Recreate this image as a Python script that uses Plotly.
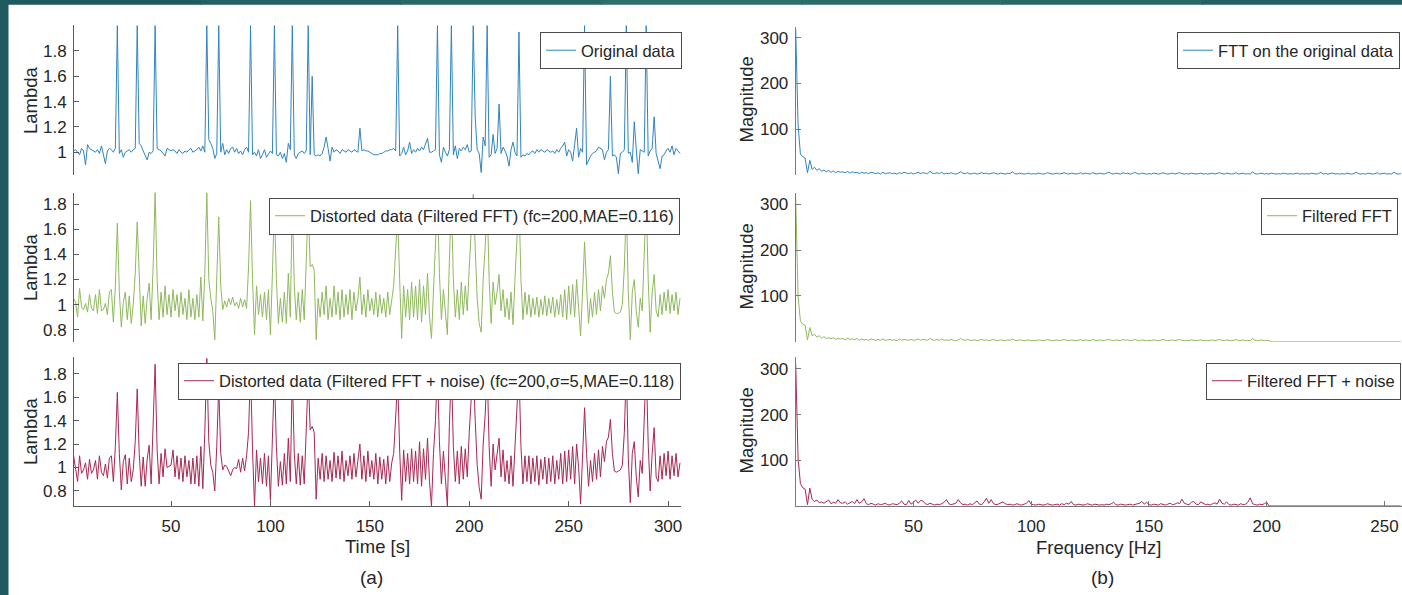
import plotly.graph_objects as go

# ---------------- data ----------------
time_s = list(range(1, 307))
freq_hz = list(range(0, 258))

original = [
    1.01, 1.02, 1.00, 0.98, 1.03, 1.01, 0.90, 1.06, 1.03, 1.02,
    1.01, 1.00, 1.02, 0.99, 1.05, 0.97, 0.91, 1.01, 1.03, 1.02,
    1.00, 1.03, 2.00, 0.99, 1.02, 0.96, 1.00, 1.01, 1.02, 1.00,
    1.02, 1.03, 2.00, 1.07, 1.05, 1.01, 0.97, 0.94, 1.00, 0.99,
    1.01, 2.00, 1.03, 1.02, 1.01, 0.99, 0.97, 1.03, 1.02, 1.01,
    1.02, 1.01, 0.99, 1.02, 1.00, 0.99, 1.01, 1.00, 1.02, 1.03,
    1.00, 1.01, 1.02, 1.04, 1.01, 1.05, 1.00, 2.00, 1.10, 1.07,
    1.03, 0.95, 0.99, 2.00, 1.00, 1.07, 0.98, 1.02, 0.99, 1.03,
    1.04, 1.00, 1.03, 0.99, 1.01, 0.98, 1.02, 1.04, 1.00, 2.00,
    0.98, 1.00, 0.97, 1.02, 0.95, 0.98, 1.02, 0.96, 0.99, 1.01,
    0.99, 2.00, 0.98, 0.97, 1.00, 0.95, 0.99, 0.92, 1.07, 1.02,
    2.00, 0.98, 0.95, 0.99, 1.00, 1.01, 0.99, 1.01, 2.00, 0.98,
    1.60, 0.98, 0.97, 0.98, 0.97, 0.99, 1.04, 1.12, 1.03, 0.93,
    1.04, 1.00, 1.02, 1.01, 0.99, 1.02, 1.01, 1.00, 1.02, 1.01,
    1.00, 1.02, 1.01, 1.00, 1.19, 1.01, 1.02, 1.01, 1.01, 1.00,
    0.99, 0.98, 0.98, 0.98, 0.99, 0.99, 1.00, 1.01, 1.01, 1.02,
    1.02, 1.03, 1.01, 2.00, 0.97, 0.99, 1.04, 0.98, 1.01, 1.08,
    0.99, 1.02, 1.00, 1.03, 1.01, 1.04, 1.02, 1.06, 1.11, 1.00,
    1.00, 1.01, 1.02, 2.00, 0.98, 0.92, 1.04, 1.00, 0.97, 1.02,
    2.00, 0.98, 1.05, 0.95, 1.03, 1.01, 1.04, 1.02, 1.06, 1.00,
    1.01, 2.00, 1.27, 1.02, 0.99, 0.84, 1.12, 1.05, 2.00, 0.96,
    0.98, 1.14, 0.99, 1.03, 1.38, 0.99, 1.04, 1.01, 0.97, 0.89,
    1.02, 1.08, 1.00, 0.97, 1.95, 0.96, 0.98, 0.97, 0.99, 0.98,
    1.00, 1.01, 0.99, 1.02, 1.00, 1.02, 1.01, 1.00, 1.02, 1.01,
    1.00, 1.01, 0.99, 1.02, 1.00, 1.03, 1.05, 1.08, 0.97, 1.02,
    1.00, 0.93, 1.04, 1.19, 0.96, 1.03, 1.00, 2.00, 0.90, 0.94,
    0.97, 0.99, 1.00, 1.01, 1.04, 1.03, 1.02, 0.94, 1.00, 1.02,
    1.60, 0.97, 0.98, 0.96, 0.83, 0.99, 1.00, 1.02, 2.00, 0.99,
    1.00, 0.92, 1.24, 1.02, 0.83, 1.02, 1.01, 1.00, 2.00, 0.97,
    1.01, 1.03, 1.28, 0.99, 0.93, 0.87, 0.97, 0.98, 1.01, 1.03,
    1.00, 1.05, 0.98, 1.03, 1.01, 0.99,
]

filtered = [
    1.05, 1.02, 0.90, 1.13, 0.98, 0.96, 1.01, 0.94, 1.08, 0.97,
    0.95, 1.08, 0.93, 1.12, 0.95, 0.96, 1.01, 0.92, 1.10, 1.12,
    0.86, 1.15, 1.65, 1.10, 0.82, 1.02, 1.10, 0.88, 1.07, 0.85,
    1.00, 1.25, 1.66, 1.15, 0.83, 1.07, 0.85, 1.05, 1.17, 0.88,
    1.30, 1.90, 1.20, 0.88, 1.10, 0.90, 1.15, 0.92, 1.08, 0.90,
    1.12, 0.95, 1.08, 0.90, 1.10, 0.92, 1.05, 0.88, 1.12, 0.90,
    1.05, 0.88, 1.08, 0.90, 1.22, 0.87, 1.25, 1.90, 1.20, 1.05,
    0.95, 0.72, 1.20, 1.70, 1.15, 0.96, 1.03, 0.98, 1.05, 1.00,
    1.06, 0.99, 1.02, 0.97, 1.05, 0.98, 1.04, 0.97, 1.30, 1.83,
    1.20, 0.76, 1.15, 0.92, 1.08, 0.90, 1.10, 0.88, 1.12, 0.76,
    1.25, 1.80, 1.20, 0.85, 1.05, 0.86, 1.10, 0.85, 1.25, 0.90,
    1.84, 1.15, 0.88, 1.10, 0.86, 1.12, 0.88, 1.30, 1.80, 1.30,
    1.32, 1.28, 0.72, 1.05, 0.90, 1.10, 0.92, 1.15, 0.88, 1.05,
    0.90, 1.15, 0.92, 1.10, 0.88, 1.12, 0.90, 1.08, 0.92, 1.12,
    0.88, 1.10, 0.95, 1.05, 1.22, 0.92, 1.08, 0.90, 1.12, 0.95,
    1.05, 0.92, 1.10, 0.90, 1.08, 0.93, 1.05, 0.90, 1.10, 0.92,
    1.05, 1.15, 1.45, 1.70, 1.20, 0.73, 1.15, 0.90, 1.12, 0.88,
    1.18, 0.90, 1.15, 0.88, 1.20, 0.86, 1.15, 0.92, 1.25, 0.90,
    0.73, 1.10, 1.40, 1.85, 1.25, 0.88, 1.12, 0.95, 0.76, 1.35,
    1.85, 1.20, 0.90, 1.12, 0.88, 1.18, 0.92, 1.15, 0.95, 1.30,
    1.60, 1.88, 1.45, 1.05, 0.85, 0.78, 1.20, 1.45, 1.85, 1.20,
    0.85, 1.18, 1.00, 1.10, 1.24, 0.95, 1.12, 0.90, 1.05, 0.88,
    1.10, 0.84, 1.20, 1.50, 1.85, 1.20, 0.88, 1.10, 0.92, 1.08,
    0.90, 1.05, 0.92, 1.06, 0.90, 1.04, 0.92, 1.07, 0.91, 1.05,
    0.93, 1.06, 0.90, 1.04, 0.92, 1.08, 0.90, 1.12, 0.88, 1.15,
    0.92, 1.16, 0.90, 1.20, 1.00, 0.75, 1.10, 1.50, 1.15, 0.85,
    1.05, 0.90, 1.10, 0.92, 1.12, 0.95, 1.15, 1.05, 1.20, 1.25,
    1.39, 1.10, 0.94, 0.93, 0.93, 0.94, 1.00, 1.30, 1.80, 1.10,
    0.72, 1.10, 1.20, 0.95, 0.82, 1.05, 0.95, 1.35, 1.85, 1.20,
    0.78, 1.10, 1.24, 0.95, 0.90, 1.08, 0.92, 1.10, 0.95, 1.12,
    0.93, 1.08, 0.95, 1.10, 0.92, 1.05,
]

filtered_noise = [
    1.10, 1.00, 0.88, 1.10, 0.95, 0.98, 1.04, 0.90, 1.07, 0.95,
    0.98, 1.06, 0.90, 1.10, 0.96, 0.93, 1.03, 0.91, 1.08, 1.10,
    0.88, 1.18, 1.64, 1.12, 0.81, 1.05, 1.11, 0.86, 1.08, 0.88,
    0.98, 1.22, 1.67, 1.12, 0.84, 1.09, 0.84, 1.07, 1.19, 0.86,
    1.35, 1.88, 1.15, 0.86, 1.12, 0.92, 1.16, 1.00, 1.01, 1.02,
    1.15, 0.92, 1.10, 0.90, 1.08, 0.88, 1.10, 0.92, 1.06, 0.86,
    1.08, 0.86, 1.10, 0.84, 1.18, 0.82, 1.30, 1.93, 1.22, 1.02,
    0.96, 0.80, 1.18, 1.70, 1.12, 0.98, 1.02, 1.01, 0.97, 0.93,
    0.98, 1.00, 0.99, 1.07, 0.96, 1.08, 0.97, 1.10, 1.30, 1.85,
    1.15, 0.67, 1.15, 0.88, 1.08, 0.86, 1.12, 0.84, 1.10, 0.72,
    1.25, 1.80, 1.18, 0.84, 1.05, 0.85, 1.12, 0.86, 1.25, 0.88,
    1.80, 1.12, 0.86, 1.12, 0.85, 1.10, 0.86, 1.30, 1.78, 1.32,
    1.35, 1.30, 0.73, 1.08, 0.90, 1.12, 0.88, 1.10, 0.90, 1.06,
    0.88, 1.13, 0.91, 1.10, 0.90, 1.14, 0.88, 1.06, 0.93, 1.10,
    0.90, 1.12, 0.92, 1.06, 1.20, 0.90, 1.10, 0.88, 1.14, 0.92,
    1.06, 0.90, 1.12, 0.86, 1.09, 0.90, 1.07, 0.86, 1.10, 0.88,
    1.04, 1.12, 1.45, 1.75, 1.15, 0.72, 1.15, 0.88, 1.12, 0.86,
    1.16, 0.88, 1.14, 0.86, 1.22, 0.84, 1.16, 0.90, 1.25, 0.88,
    0.67, 1.12, 1.40, 1.85, 1.22, 0.86, 1.14, 0.92, 0.67, 1.35,
    1.85, 1.18, 0.88, 1.14, 0.86, 1.18, 0.90, 1.16, 0.92, 1.30,
    1.60, 1.88, 1.40, 1.02, 0.83, 0.73, 1.20, 1.45, 1.85, 1.18,
    0.84, 1.20, 0.98, 1.12, 1.25, 0.92, 1.15, 0.88, 1.06, 0.86,
    1.10, 0.84, 1.20, 1.50, 1.85, 1.18, 0.86, 1.10, 0.88, 1.10,
    0.86, 1.08, 0.88, 1.10, 0.85, 1.07, 0.90, 1.09, 0.86, 1.08,
    0.88, 1.10, 0.86, 1.06, 0.90, 1.12, 0.86, 1.14, 0.88, 1.15,
    0.90, 1.18, 0.86, 1.20, 1.00, 0.69, 1.10, 1.51, 1.12, 0.84,
    1.06, 0.88, 1.12, 0.90, 1.15, 0.92, 1.18, 1.05, 1.22, 1.26,
    1.41, 1.12, 0.97, 0.96, 0.97, 0.98, 1.02, 1.30, 1.85, 1.08,
    0.70, 1.12, 1.22, 0.92, 0.75, 1.06, 0.95, 1.35, 1.88, 1.20,
    0.80, 1.12, 1.34, 0.92, 0.88, 1.10, 0.90, 1.12, 0.93, 1.14,
    0.90, 1.10, 0.93, 1.12, 0.92, 1.04,
]

fft_original = [
    318, 110, 46, 40, 37, 5, 32, 12, 17, 10,
    14, 8, 11, 7, 10, 6, 9, 5, 8, 6,
    7, 5, 8, 4, 7, 5, 6, 3, 6, 4,
    5, 3, 6, 4, 3, 5, 2, 6, 3, 4,
    5, 3, 4, 2, 5, 3, 6, 4, 3, 5,
    2, 4, 6, 3, 5, 4, 3, 8, 4, 3,
    5, 3, 6, 2, 4, 3, 5, 3, 2, 4,
    7, 4, 3, 5, 2, 3, 4, 2, 3, 5,
    3, 4, 2, 3, 5, 3, 2, 4, 3, 2,
    4, 3, 7, 3, 2, 4, 3, 2, 3, 4,
    2, 3, 2, 4, 3, 2, 3, 5, 3, 2,
    3, 4, 2, 3, 5, 3, 2, 4, 3, 2,
    3, 5, 2, 4, 3, 2, 5, 3, 2, 4,
    3, 2, 4, 6, 3, 2, 4, 3, 2, 5,
    3, 4, 2, 3, 6, 3, 2, 4, 3, 2,
    3, 2, 4, 3, 2, 3, 5, 3, 2, 3,
    4, 2, 3, 5, 3, 2, 3, 2, 4, 3,
    2, 3, 4, 2, 3, 2, 3, 4, 2, 3,
    5, 3, 2, 4, 3, 2, 3, 5, 2, 3,
    4, 2, 3, 2, 7, 3, 2, 3, 4, 2,
    3, 2, 4, 3, 2, 3, 2, 4, 3, 2,
    3, 2, 3, 4, 2, 3, 2, 3, 2, 4,
    3, 2, 3, 6, 2, 3, 2, 3, 4, 2,
    3, 2, 3, 2, 4, 3, 2, 3, 6, 3,
    2, 3, 2, 4, 3, 2, 3, 5, 2, 3,
    4, 2, 3, 2, 6, 3, 2, 3,
]

fft_filtered = [
    315, 100, 45, 38, 36, 4, 31, 13, 16, 10,
    13, 8, 11, 7, 9, 6, 9, 5, 7, 6,
    7, 4, 8, 5, 6, 4, 7, 3, 6, 4,
    5, 3, 6, 4, 3, 5, 3, 6, 3, 4,
    5, 3, 4, 2, 6, 3, 5, 4, 3, 5,
    3, 4, 6, 3, 5, 4, 3, 7, 4, 3,
    5, 3, 6, 3, 4, 3, 5, 3, 2, 4,
    7, 4, 3, 5, 3, 3, 4, 2, 3, 5,
    3, 4, 2, 3, 5, 3, 2, 4, 3, 2,
    4, 3, 6, 3, 2, 4, 3, 2, 3, 4,
    2, 3, 2, 4, 3, 2, 3, 5, 3, 2,
    3, 4, 2, 3, 5, 3, 2, 4, 3, 2,
    3, 5, 2, 4, 3, 2, 5, 3, 2, 4,
    3, 2, 4, 5, 3, 2, 4, 3, 2, 5,
    3, 4, 2, 3, 5, 3, 2, 4, 3, 2,
    3, 2, 4, 3, 2, 3, 5, 3, 2, 3,
    4, 2, 3, 5, 3, 2, 3, 2, 4, 3,
    2, 3, 4, 2, 3, 2, 3, 4, 2, 3,
    5, 3, 2, 4, 3, 2, 3, 5, 2, 3,
    4, 2, 3, 2, 7, 3, 2, 3, 4, 2,
    3, 2, 0, 0, 0, 0, 0, 0, 0, 0,
    0, 0, 0, 0, 0, 0, 0, 0, 0, 0,
    0, 0, 0, 0, 0, 0, 0, 0, 0, 0,
    0, 0, 0, 0, 0, 0, 0, 0, 0, 0,
    0, 0, 0, 0, 0, 0, 0, 0, 0, 0,
    0, 0, 0, 0, 0, 0, 0, 0,
]

fft_filtered_noise = [
    312, 105, 49, 40, 37, 3, 39, 14, 10, 13,
    7, 9, 6, 10, 13, 5, 8, 6, 14, 7,
    6, 9, 4, 7, 10, 5, 14, 6, 9, 16,
    5, 3, 6, 4, 2, 5, 3, 4, 6, 3,
    2, 5, 4, 3, 6, 11, 4, 3, 12, 4,
    8, 13, 6, 12, 11, 5, 3, 6, 4, 2,
    4, 3, 5, 8, 14, 5, 3, 4, 6, 14,
    7, 3, 4, 2, 5, 3, 8, 11, 4, 3,
    9, 17, 6, 14, 5, 3, 4, 6, 9, 5,
    3, 4, 2, 3, 5, 3, 2, 4, 6, 12,
    4, 3, 2, 4, 3, 2, 3, 5, 3, 2,
    3, 4, 2, 5, 3, 6, 4, 10, 3, 2,
    4, 3, 2, 3, 5, 3, 2, 4, 3, 2,
    3, 2, 4, 3, 5, 8, 3, 2, 4, 3,
    2, 3, 4, 2, 3, 4, 6, 10, 4, 8,
    3, 2, 4, 3, 2, 5, 3, 2, 4, 6,
    3, 4, 7, 5, 15, 6, 4, 3, 8, 10,
    4, 3, 9, 5, 3, 4, 2, 5, 7, 4,
    15, 6, 4, 9, 3, 2, 4, 3, 2, 5,
    3, 4, 8, 18, 5, 3, 2, 4, 3, 5,
    8, 0, 0, 0, 0, 0, 0, 0, 0, 0,
    0, 0, 0, 0, 0, 0, 0, 0, 0, 0,
    0, 0, 0, 0, 0, 0, 0, 0, 0, 0,
    0, 0, 0, 0, 0, 0, 0, 0, 0, 0,
    0, 0, 0, 0, 0, 0, 0, 0, 0, 0,
    0, 0, 0, 0, 0, 0, 0, 0,
]

lambda_ticks_top = [1, 1.2, 1.4, 1.6, 1.8]
lambda_ticks = [0.8, 1, 1.2, 1.4, 1.6, 1.8]
mag_ticks = [100, 200, 300]
time_ticks = [50, 100, 150, 200, 250, 300]
freq_ticks = [50, 100, 150, 200, 250]

names = [
    "Original data",
    "Distorted data (Filtered FFT) (fc=200,MAE=0.116)",
    "Distorted data (Filtered FFT + noise) (fc=200,\u03c3=5,MAE=0.118)",
    "FTT on the original data",
    "Filtered FFT",
    "Filtered FFT + noise",
]

# ---------------- style ----------------
W, H = 1402, 595
FONT = "Liberation Sans, Arial, Helvetica, sans-serif"
TXT = "#262626"
AX = "#5a5a5a"
BLUE = "#3084c0"
GREEN = "#90b85e"
RED = "#a82850"


def px_x(p):
    return p / W


def px_y(p):
    return 1 - p / H


fig = go.Figure()

series = [
    (time_s, original, BLUE, "x", "y", "legend"),
    (time_s, filtered, GREEN, "x2", "y2", "legend2"),
    (time_s, filtered_noise, RED, "x3", "y3", "legend3"),
    (freq_hz, fft_original, BLUE, "x4", "y4", "legend4"),
    (freq_hz, fft_filtered, GREEN, "x5", "y5", "legend5"),
    (freq_hz, fft_filtered_noise, RED, "x6", "y6", "legend6"),
]
for (xs, ys, col, xa, ya, lg), nm in zip(series, names):
    fig.add_trace(go.Scatter(
        x=xs, y=ys, mode="lines", name=nm,
        line=dict(color=col, width=1),
        xaxis=xa, yaxis=ya, legend=lg, showlegend=True,
    ))

left_dom = [px_x(74), px_x(681)]
right_dom = [px_x(795.7), 1.0]
dom_top = [px_y(175), px_y(25)]
dom_mid = [px_y(341.7), px_y(192.7)]
dom_bot = [px_y(506), px_y(357)]

xcommon_hidden = dict(visible=False, showgrid=False, zeroline=False)


def yaxis(dom, rng, ticks, anchor, lc=AX):
    return dict(
        domain=dom, range=rng, anchor=anchor, tickmode="array", tickvals=ticks,
        ticks="inside", ticklen=5, tickcolor=lc, showline=True, linecolor=lc,
        linewidth=1, showgrid=False, zeroline=False, ticklabelstandoff=3,
        tickfont=dict(family=FONT, size=17, color=TXT),
    )


def xaxis_visible(dom, rng, ticks, anchor, lc=AX):
    return dict(
        domain=dom, range=rng, anchor=anchor, tickmode="array", tickvals=ticks,
        ticks="inside", ticklen=5, tickcolor=lc, showline=True, linecolor=lc,
        linewidth=1, showgrid=False, zeroline=False, ticklabelstandoff=5,
        tickfont=dict(family=FONT, size=17, color=TXT),
    )


left_rng = [1.2, 306.5]
right_rng = [0, 257.45]
RAX = "#7a7a7a"

layout = dict(
    width=W, height=H,
    margin=dict(l=0, r=0, t=0, b=0, autoexpand=False),
    paper_bgcolor="white", plot_bgcolor="white",
    font=dict(family=FONT, size=17, color=TXT),
    xaxis=dict(domain=left_dom, range=left_rng, anchor="y", **xcommon_hidden),
    xaxis2=dict(domain=left_dom, range=left_rng, anchor="y2", **xcommon_hidden),
    xaxis3=xaxis_visible(left_dom, left_rng, time_ticks, "y3"),
    xaxis4=dict(domain=right_dom, range=right_rng, anchor="y4", **xcommon_hidden),
    xaxis5=dict(domain=right_dom, range=right_rng, anchor="y5", **xcommon_hidden),
    xaxis6=xaxis_visible(right_dom, right_rng, freq_ticks, "y6", RAX),
    yaxis=yaxis(dom_top, [0.82, 2.005], lambda_ticks_top, "x"),
    yaxis2=yaxis(dom_mid, [0.704, 1.893], lambda_ticks, "x2"),
    yaxis3=yaxis(dom_bot, [0.672, 1.942], lambda_ticks, "x3"),
    yaxis4=yaxis([px_y(175), px_y(26.7)], [0, 324], mag_ticks, "x4", RAX),
    yaxis5=yaxis(dom_mid, [0, 325], mag_ticks, "x5", RAX),
    yaxis6=yaxis(dom_bot, [0, 326], mag_ticks, "x6", RAX),
    showlegend=True,
)


def legend(x, y, xanchor):
    return dict(
        x=x, y=y, xanchor=xanchor, yanchor="middle", xref="paper", yref="paper",
        bgcolor="white", bordercolor="#4a4a4a", borderwidth=1,
        font=dict(family=FONT, size=16.5, color=TXT),
    )


layout["legend"] = legend(px_x(682), px_y(50.5), "right")
layout["legend2"] = legend(px_x(680), px_y(216), "right")
layout["legend3"] = legend(px_x(681), px_y(381), "right")
layout["legend4"] = legend(px_x(1177), px_y(50.5), "left")
layout["legend5"] = legend(px_x(1398), px_y(216), "right")
layout["legend6"] = legend(px_x(1206), px_y(381), "left")

fig.update_layout(**layout)

# axis titles and panel captions
ann = []
for yc in (100, 267, 431):
    ann.append(dict(text="Lambda", x=px_x(30), y=px_y(yc), textangle=-90))
for yc in (100, 267, 431):
    ann.append(dict(text="Magnitude", x=px_x(745.5), y=px_y(yc), textangle=-90))
ann.append(dict(text="Time [s]", x=px_x(377.5), y=px_y(546)))
ann.append(dict(text="Frequency [Hz]", x=px_x(1098.5), y=px_y(547)))
ann.append(dict(text="(a)", x=px_x(371.5), y=px_y(577), font=dict(size=19)))
ann.append(dict(text="(b)", x=px_x(1102.5), y=px_y(577), font=dict(size=19)))
for a in ann:
    a.update(xref="paper", yref="paper", showarrow=False,
             xanchor="center", yanchor="middle")
    f = dict(family=FONT, size=18.5, color=TXT)
    f.update(a.get("font", {}))
    a["font"] = f
fig.update_layout(annotations=ann)

# slide frame (dark teal border at left and top)
shapes = [dict(type="rect", xref="paper", yref="paper", x0=0, x1=px_x(8.5),
               y0=0, y1=1, fillcolor="#1e5a60", line=dict(width=0), layer="above")]
top_cols = ["#1f5a5f", "#245f62", "#2a6765", "#2f6f68", "#2e6d67", "#2b6864", "#255f61"]
n = len(top_cols)
for i, c in enumerate(top_cols):
    shapes.append(dict(type="rect", xref="paper", yref="paper",
                       x0=i / n, x1=(i + 1) / n + 0.001, y0=px_y(4.7), y1=1,
                       fillcolor=c, line=dict(width=0), layer="above"))
fig.update_layout(shapes=shapes)

fig.write_html("out.html")
